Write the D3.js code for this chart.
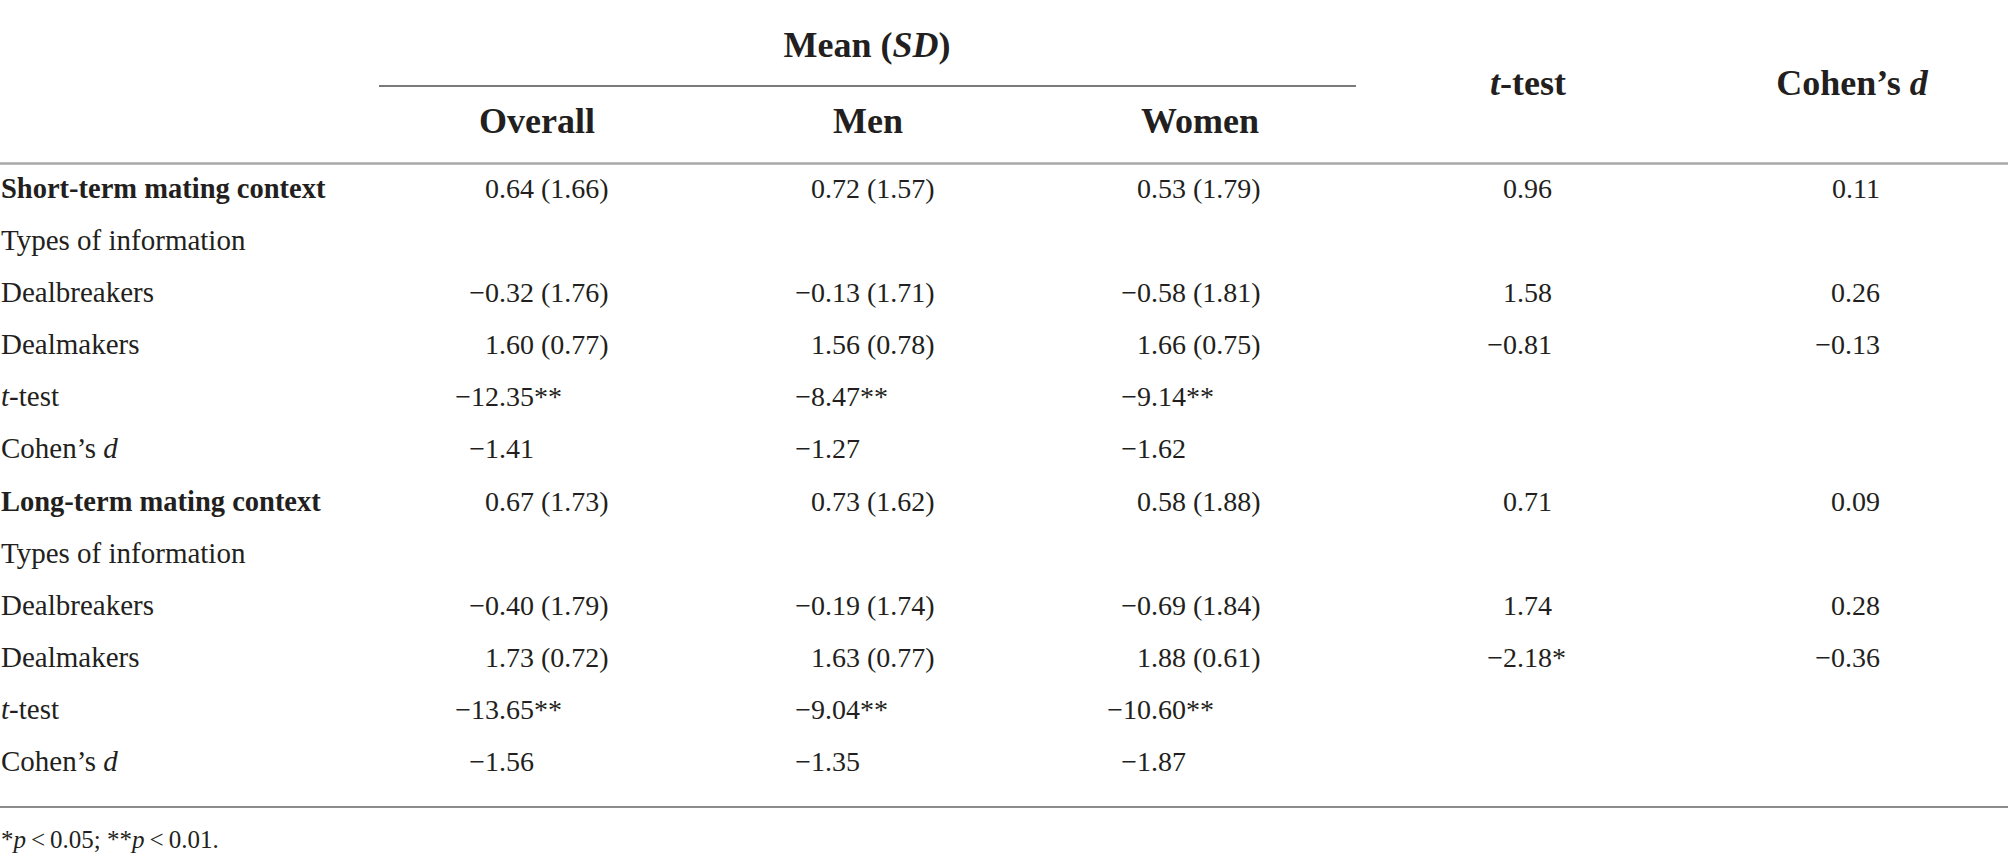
<!DOCTYPE html>
<html>
<head>
<meta charset="utf-8">
<script src="https://cdn.jsdelivr.net/npm/d3@7"></script>
<style>
body { margin: 0; background: #fff; }
text { font-family: "Liberation Serif", "Times New Roman", serif; fill: #231f20; }
</style>
</head>
<body>
<script>
'use strict';

// _x_ marks italic parts
var rowLabels = ["Short-term mating context", "Types of information", "Dealbreakers", "Dealmakers", "_t_-test", "Cohen\u2019s _d_",
                 "Long-term mating context", "Types of information", "Dealbreakers", "Dealmakers", "_t_-test", "Cohen\u2019s _d_"];
var boldRows = [0, 6];

var meanHeader = "Mean (_SD_)";
var groupHeaders = ["Overall", "Men", "Women"];
var testHeaders = ["_t_-test", "Cohen\u2019s _d_"];

var overallMean = [0.64, null, -0.32, 1.60, -12.35, -1.41, 0.67, null, -0.40, 1.73, -13.65, -1.56];
var overallSD   = [1.66, null, 1.76, 0.77, null, null, 1.73, null, 1.79, 0.72, null, null];
var menMean     = [0.72, null, -0.13, 1.56, -8.47, -1.27, 0.73, null, -0.19, 1.63, -9.04, -1.35];
var menSD       = [1.57, null, 1.71, 0.78, null, null, 1.62, null, 1.74, 0.77, null, null];
var womenMean   = [0.53, null, -0.58, 1.66, -9.14, -1.62, 0.58, null, -0.69, 1.88, -10.60, -1.87];
var womenSD     = [1.79, null, 1.81, 0.75, null, null, 1.88, null, 1.84, 0.61, null, null];
var tTest       = [0.96, null, 1.58, -0.81, null, null, 0.71, null, 1.74, -2.18, null, null];
var cohensD     = [0.11, null, 0.26, -0.13, null, null, 0.09, null, 0.28, -0.36, null, null];

var groupStars  = ["", "", "", "", "**", "", "", "", "", "", "**", ""];
var tTestStars  = ["", "", "", "", "", "", "", "", "", "*", "", ""];
var noStars     = ["", "", "", "", "", "", "", "", "", "", "", ""];

var footnote = "*_p_\u2009<\u20090.05; **_p_\u2009<\u20090.01.";

var table = {};
table.width = 2008;
table.height = 866;
table.fmt = d3.format(".2f");

table.richText = function(sel, str){
    str.split("_").forEach(function(part, i){
        if (part) sel.append("tspan").style("font-style", i % 2 ? "italic" : "normal").text(part);
    });
    return sel;
}

table.run = function(){
    var svg = d3.select("body").append("svg")
        .attr("width", table.width)
        .attr("height", table.height);

    var columns = [
        {key: "Overall", mean: overallMean, sd: overallSD, stars: groupStars},
        {key: "Men", mean: menMean, sd: menSD, stars: groupStars},
        {key: "Women", mean: womenMean, sd: womenSD, stars: groupStars},
        {key: "t", mean: tTest, sd: null, stars: tTestStars},
        {key: "d", mean: cohensD, sd: null, stars: noStars}
    ];

    // decimal anchor of each column and centre of its header
    var colX = d3.scaleOrdinal().domain(columns.map(function(c){ return c.key; }))
        .range([534, 860, 1186, 1552, 1880]);
    var headX = d3.scaleOrdinal().domain(columns.map(function(c){ return c.key; }))
        .range([537, 868, 1200, 1528, 1852]);

    var y = d3.scaleLinear().domain([0, rowLabels.length - 1]).range([198, 771]);

    // rules
    svg.append("line").attr("x1", 379).attr("x2", 1356).attr("y1", 86).attr("y2", 86)
        .attr("stroke", "#7a7a7a").attr("stroke-width", 2);
    svg.append("line").attr("x1", 0).attr("x2", table.width).attr("y1", 163.5).attr("y2", 163.5)
        .attr("stroke", "#a8a8a8").attr("stroke-width", 2.5);
    svg.append("line").attr("x1", 0).attr("x2", table.width).attr("y1", 807).attr("y2", 807)
        .attr("stroke", "#8c8c8c").attr("stroke-width", 2);

    // headers
    var head = svg.append("g").style("font-weight", "bold").style("font-size", "36px");
    table.richText(head.append("text").attr("x", 867).attr("y", 57).attr("text-anchor", "middle"), meanHeader);
    groupHeaders.forEach(function(h, i){
        table.richText(head.append("text").attr("x", headX(columns[i].key)).attr("y", 133)
            .attr("text-anchor", "middle"), h);
    });
    testHeaders.forEach(function(h, i){
        table.richText(head.append("text").attr("x", headX(columns[i + 3].key)).attr("y", 95)
            .attr("text-anchor", "middle"), h);
    });

    // row labels
    var body = svg.append("g").style("font-size", "28px");
    rowLabels.forEach(function(lab, i){
        var bold = boldRows.indexOf(i) >= 0;
        var t = body.append("text").attr("x", 1).attr("y", y(i))
            .style("font-weight", bold ? "bold" : "normal")
            .style("font-size", bold ? "28.5px" : "29px");
        table.richText(t, lab);
    });

    // cells: number ends at the column anchor, the rest hangs after it
    columns.forEach(function(col){
        var cells = col.mean.map(function(v, i){ return {v: v, sd: col.sd ? col.sd[i] : null, star: col.stars[i], i: i}; })
            .filter(function(d){ return d.v !== null; });
        var g = body.append("g");
        g.selectAll(".num").data(cells).enter().append("text")
            .attr("class", "num")
            .attr("x", colX(col.key))
            .attr("y", function(d){ return y(d.i); })
            .attr("text-anchor", "end")
            .text(function(d){ return table.fmt(d.v); });
        g.selectAll(".rest").data(cells).enter().append("text")
            .attr("class", "rest")
            .attr("x", colX(col.key))
            .attr("y", function(d){ return y(d.i); })
            .text(function(d){ return (d.sd !== null ? "\u00a0(" + table.fmt(d.sd) + ")" : "") + d.star; });
    });

    table.richText(svg.append("text").attr("x", 1).attr("y", 848).style("font-size", "25px"), footnote);
}

window.onload = table.run;
</script>
</body>
</html>
